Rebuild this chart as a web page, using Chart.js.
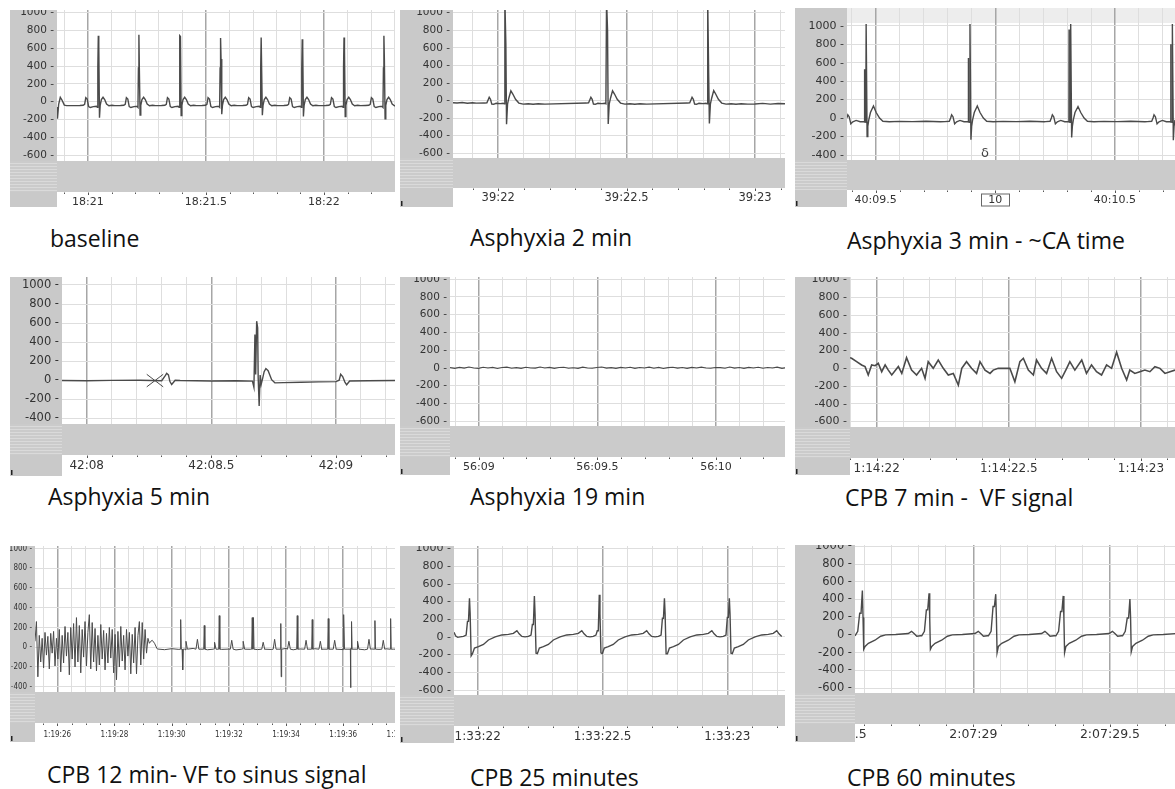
<!DOCTYPE html>
<html>
<head>
<meta charset="utf-8">
<script src="https://cdn.jsdelivr.net/npm/chart.js@4.4.1/dist/chart.umd.min.js"></script>
<style>
  body { margin: 0; background: #fff; width: 1175px; height: 789px; position: relative; overflow: hidden; }
  canvas { position: absolute; }
  .caption { position: absolute; font-family: 'Open Sans', 'Noto Sans', sans-serif; font-size: 23px; color: #111; white-space: pre; line-height: 30px; }
</style>
</head>
<body>
<script>
// ---------- data (seconds from first labelled tick, value in µV) ----------

// baseline
const p1Labels = ['18:21', '18:21.5', '18:22'];
const p1BeatTimes = [0.044, 0.216, 0.390, 0.562, 0.734, 0.908, 1.085, 1.254];
const p1RPeaks = [740, 750, 740, 715, 720, 700, 720, 740];
const p1RNotch = [630, 350, 730, 480, 720, 620, 580, 470];
const p1SDips = [-180, -150, -155, -140, -150, -165, -165, -190];
const p1Beat = [[-0.078, -42], [-0.064, -40], [-0.058, -30], [-0.053, 45], [-0.047, 30], [-0.041, -55], [-0.034, -65],
  [-0.021, -55], [-0.008, -50], [-0.004, -62], [-0.002, 380], [0, 'R'], [0.002, 'N'], [0.005, 'S'], [0.008, -40],
  [0.013, 25], [0.020, 50], [0.027, 25], [0.035, -25], [0.045, -45], [0.058, -40], [0.070, -44]];
const p1Lead = [[-0.131, -60], [-0.129, -190], [-0.124, -30], [-0.117, 50], [-0.110, 20], [-0.100, -38], [-0.090, -44]];

// asphyxia 2 min
const p2Labels = ['39:22', '39:22.5', '39:23'];
const p2BeatTimes = [0.026, 0.422, 0.816];
const p2RPeaks = [1150, 1150, 1150];
const p2RNotch = [640, 800, 270];
const p2SDips = [-270, -265, -260];
const p2TPeaks = [112, 112, 115];
const p2Beat = [[-0.078, -28], [-0.070, -25], [-0.065, 10], [-0.061, 38], [-0.056, 15], [-0.051, -40], [-0.044, -42],
  [-0.034, -30], [-0.018, -34], [-0.0065, -30], [-0.0026, -36], [0, 'R'], [0.0039, 'N'], [0.0065, 'S'], [0.0104, -40],
  [0.0156, 30], [0.0234, 'T'], [0.031, 75], [0.0416, 15], [0.0545, -28], [0.0714, -40], [0.091, -35], [0.110, -42],
  [0.130, -36], [0.156, -40]];
const p2Lead = [[-0.176, -25], [-0.160, -28], [-0.140, -22], [-0.120, -30], [-0.100, -24], [-0.085, -29]];
const p2Tail = [[1.000, -38], [1.030, -32], [1.060, -40], [1.090, -33], [1.117, -36]];

// asphyxia 3 min
const p3Labels = ['40:09.5', '10', '40:10.5'];
const p3BeatTimes = [-0.040, 0.394, 0.815, 1.240];
const p3RPeaks = [1020, 1020, 1020, 1020];
const p3RNotch = [530, 650, 960, 800];
const p3SDips = [-200, -235, -210, -240];
const p3TPeaks = [130, 130, 125, 130];
const p3Beat = [[-0.1045, -38], [-0.0864, -35], [-0.0808, 0], [-0.0766, 35], [-0.071, 15], [-0.064, -62], [-0.0557, -40],
  [-0.0418, -25], [-0.025, -40], [-0.011, -38], [-0.0075, -42], [-0.0068, 'N'], [-0.006, -40], [-0.0015, -45], [0, 'R'],
  [0.004, 'S'], [0.007, -90], [0.011, -20], [0.018, 60], [0.0306, 'T'], [0.042, 60], [0.056, 0], [0.070, -35],
  [0.097, -40], [0.139, -36], [0.195, -38], [0.250, -35], [0.310, -40]];
const p3Comment = { t: 0.457, v: -386, text: 'δ' };

// asphyxia 5 min
const p4Labels = ['42:08', '42:08.5', '42:09'];
const p4Times = [-0.099, 0.0, 0.1, 0.214, 0.301, 0.316, 0.321, 0.328, 0.334, 0.341, 0.355, 0.375, 0.5, 0.6, 0.665, 0.671,
  0.675, 0.678, 0.682, 0.686, 0.688, 0.692, 0.696, 0.700, 0.706, 0.712, 0.719, 0.728, 0.742, 0.755, 0.79, 0.86, 0.93,
  1.0, 1.013, 1.019, 1.027, 1.036, 1.043, 1.055, 1.13, 1.237];
const p4Values = [-3, -5, -2, 0, -5, 50, 72, 55, -14, -45, 0, -3, -8, -5, -10, -75, 480, 60, 620, 550, 30, -270, 55, -45,
  20, 90, 122, 100, 5, -28, -25, -22, -18, -15, 0, 62, 38, -20, -48, -8, -5, -3];
const p4Cross = [[0.241, 62], [0.307, -70], [0.241, -70], [0.307, 62]];

// asphyxia 19 min
const p5Labels = ['56:09', '56:09.5', '56:10'];
const p5Start = -0.122, p5Step = 0.02;
const p5Values = [2, -6, 5, -4, 8, -3, -7, 6, -2, 4, -8, 3, 7, -5, 2, -6, 6, -3, -4, 8, -2, 5, -7, 3, 6, -5, 1, -6, 7, -2,
  -5, 4, 8, -4, 2, -7, 5, -3, 6, -6, 3, -2, 7, -5, 4, -8, 2, 6, -4, 3, -6, 5, -2, 7, -3, -6, 4, 2, -5, 8,
  -4, 3, -7, 5, -2, 6, -5, 3, -3, 7, -6, 2];

// CPB 7 min - VF
const p6Labels = ['1:14:22', '1:14:22.5', '1:14:23'];
const p6Times = [-0.101, -0.095, -0.076, -0.057, -0.044, -0.032, -0.019, -0.006, 0.006, 0.019, 0.032, 0.044, 0.057,
  0.082, 0.095, 0.113, 0.132, 0.151, 0.170, 0.183, 0.195, 0.214, 0.233, 0.252, 0.271, 0.290, 0.309, 0.322, 0.340,
  0.359, 0.378, 0.391, 0.410, 0.429, 0.441, 0.460, 0.486, 0.504, 0.523, 0.542, 0.555, 0.574, 0.593, 0.605, 0.624,
  0.643, 0.662, 0.681, 0.700, 0.719, 0.731, 0.750, 0.776, 0.794, 0.813, 0.832, 0.851, 0.870, 0.889, 0.908, 0.927,
  0.946, 0.958, 0.977, 0.996, 1.015, 1.034, 1.053, 1.072, 1.091, 1.110, 1.129];
const p6Values = [120, 113, 75, 38, 19, -75, 38, 30, 57, -38, 38, -20, -75, 20, -57, 120, -19, -75, 0, -113, 75, 0, 94,
  0, -75, -57, -189, 0, 75, 0, -57, 75, -20, -57, -20, 0, 0, 0, -151, 75, 113, -20, -75, 94, 0, -57, 113, -38, -113, 0,
  75, -20, 94, -57, 38, -38, -75, 38, 0, 181, 0, -132, -20, -57, -38, -20, -38, 19, 0, -57, -38, -20];

// CPB 12 min - VF to sinus
const p7Labels = ['1:19:26', '1:19:28', '1:19:30', '1:19:32', '1:19:34', '1:19:36', '1:19:38'];
const p7VfStart = -0.78, p7VfStep = 0.05;
const p7VfValues = [60, 260, -300, 120, -150, 90, -210, 150, -80, 110,
  -220, 140, -60, 160, -190, 90, -120, 180, -250, 120,
  -160, 210, -90, 150, -280, 200, -120, 240, -200, 300,
  -150, 220, -260, 180, -100, 260, -190, 150, 330, -220,
  250, -150, 190, -240, 120, -180, 230, -120, 170, -230,
  140, -160, 200, -110, 180, -260, 130, -330, 160, -200,
  210, -140, 120, -230, 180, -90, 150, -270, 130, -160,
  200, -270, 120, 260, -180, 250, -120, 180, -60, 90,
  40, 60];
const p7Transition = [[3.32, 70], [3.40, 40], [3.48, -10]];
const p7BaseStart = 3.5, p7BaseStep = 0.25, p7BaseLevel = -20;
const p7BaseValues = [-18, -25, -15, -22, -28, -12, -20, -26, -16, -22, -19, -27, -14, -21, -24, -17, -23, -20, -12, -26,
  -18, -22, -15, -25, -20, -17, -24, -13, -21, -26, -18, -22, -16, -20, -19];
const p7SpikeTimes = [4.315, 4.385, 5.14, 5.664, 6.818, 6.86, 7.822, 7.83, 8.392, 8.916, 9.476, 10.024, 10.269, 10.29, 11.108, 11.657];
const p7SpikeValues = [280, -230, 220, 320, 300, 300, 240, -300, 320, 280, 290, 330, -410, 260, 270, 290];
const p7BumpTimes = [4.5, 4.9, 5.5, 6.1, 6.5, 7.2, 7.6, 8.1, 8.7, 9.2, 9.7, 10.5, 10.9, 11.4];
const p7BumpValues = [60, 80, 50, 70, 60, 50, 80, 60, 70, 60, 70, 60, 80, 70];

// CPB 25 minutes
const p8Labels = ['1:33:22', '1:33:22.5', '1:33:23'];
const p8BeatTimes = [-0.033, 0.227, 0.487, 0.748, 1.008];
const p8RPeaks = [435, 460, 475, 435, 435];
const p8Shoulders = [175, 140, 70, 210, 220];
const p8SDips = [-215, -185, -180, -190, -185];
const p8Beat = [[-0.0374, 0], [-0.024, 5], [-0.0134, 20], [-0.008, 'U'], [-0.004, 'U'], [0, 'R'], [0.0027, 260],
  [0.0067, 'S'], [0.012, -190], [0.020, -125], [0.036, -110], [0.056, -85], [0.076, -35], [0.103, 0], [0.1295, 22],
  [0.156, 28], [0.176, 40], [0.190, 70], [0.199, 35], [0.210, 5]];
const p8Lead = [[-0.095, 52], [-0.088, 10], [-0.080, -5]];

// CPB 60 minutes
const p9Labels = ['2:07:28.5', '2:07:29', '2:07:29.5', '2:07:30'];
const p9BeatTimes = [-0.406, -0.162, 0.082, 0.329, 0.573];
const p9RPeaks = [500, 470, 460, 440, 405];
const p9Shoulders = [245, 283, 320, 264, 190];
const p9SDips = [-162, -162, -200, -200, -190];
const p9Beat = [[-0.0268, -10], [-0.017, 40], [-0.0098, 'U'], [-0.0049, 'U'], [0, 'R'], [0.0024, 200], [0.0049, 'S'],
  [0.0098, -130], [0.022, -95], [0.046, -60], [0.067, -15], [0.085, 0], [0.122, 5], [0.168, 15], [0.180, 40],
  [0.190, 12], [0.199, -15], [0.213, -10]];

const yTicksWide = [-600, -400, -200, 0, 200, 400, 600, 800, 1000];
const yTicksShort = [-400, -200, 0, 200, 400, 600, 800, 1000];

// ---------- building the series ----------
function buildBeats(lead, template, beatTimes, slots, tail) {
  const pts = lead.map(([x, y]) => ({ x, y }));
  beatTimes.forEach((t0, i) => {
    template.forEach(([dt, v]) => {
      pts.push({ x: t0 + dt, y: typeof v === 'string' ? slots[v][i] : v });
    });
  });
  (tail || []).forEach(([x, y]) => pts.push({ x, y }));
  return pts;
}
function zip(times, values) {
  const n = Math.min(times.length, values.length);
  const pts = [];
  for (let i = 0; i < n; i++) pts.push({ x: times[i], y: values[i] });
  return pts;
}
function sampled(start, step, values) {
  return values.map((y, i) => ({ x: start + i * step, y }));
}
function buildSinus() {
  let pts = sampled(p7VfStart, p7VfStep, p7VfValues);
  p7Transition.forEach(([x, y]) => pts.push({ x, y }));
  pts = pts.concat(sampled(p7BaseStart, p7BaseStep, p7BaseValues));
  p7SpikeTimes.forEach((t, i) => {
    pts.push({ x: t - 0.02, y: p7BaseLevel }, { x: t, y: p7SpikeValues[i] }, { x: t + 0.02, y: p7BaseLevel });
  });
  p7BumpTimes.forEach((t, i) => {
    pts.push({ x: t - 0.05, y: p7BaseLevel }, { x: t, y: p7BumpValues[i] }, { x: t + 0.05, y: p7BaseLevel });
  });
  return pts.sort((a, b) => a.x - b.x);
}
function crossMarker(c) {
  return [{ x: c[0][0], y: c[0][1] }, { x: c[1][0], y: c[1][1] }, { x: (c[0][0] + c[1][0]) / 2, y: null },
    { x: c[2][0], y: c[2][1] }, { x: c[3][0], y: c[3][1] }];
}

const trace = (data, w) => ({ data, borderColor: '#4a4a4a', borderWidth: w || 1.4, pointRadius: 0, tension: 0, clip: 0, spanGaps: false });

// ---------- panel geometry (page pixels) ----------
const FAMILY = "'DejaVu Sans', Verdana, sans-serif";
const NARROW = "'Liberation Sans Narrow', 'DejaVu Sans Condensed', sans-serif";

const panels = [
  { left: 10, strip: 57, right: 395, top: 10, bandTop: 161, bandBot: 192, bottom: 207,
    xMin: -0.131, xMax: 1.301, yMin: -664, yMax: 1028, minor: 0.1, major: 0.5, yTicks: yTicksWide,
    labels: p1Labels, labelStart: 0, yFont: 10.5, xFont: 11,
    series: [trace(buildBeats(p1Lead, p1Beat, p1BeatTimes, { R: p1RPeaks, N: p1RNotch, S: p1SDips }))] },
  { left: 400, strip: 453, right: 785, top: 10, bandTop: 158, bandBot: 188, bottom: 207, nick: true,
    xMin: -0.176, xMax: 1.117, yMin: -653, yMax: 1031, minor: 0.1, major: 0.5, yTicks: yTicksWide,
    labels: p2Labels, labelStart: 0, yFont: 10.5, xFont: 11.5,
    series: [trace(buildBeats(p2Lead, p2Beat, p2BeatTimes, { R: p2RPeaks, N: p2RNotch, S: p2SDips, T: p2TPeaks }, p2Tail))] },
  { left: 795, strip: 847, right: 1175, top: 8, bandTop: 160, bandBot: 190, bottom: 207, nick: true,
    xMin: -0.12, xMax: 1.251, yMin: -454, yMax: 1192, minor: 0.1, major: 0.5, yTicks: yTicksShort,
    labels: p3Labels, labelStart: 0, boxed: 1, shadeAbove: 1030, comment: p3Comment, yFont: 11, xFont: 11,
    series: [trace(buildBeats([], p3Beat, p3BeatTimes, { R: p3RPeaks, N: p3RNotch, S: p3SDips, T: p3TPeaks }))] },
  { left: 10, strip: 62, right: 395, top: 277, bandTop: 424, bandBot: 455, bottom: 476, nick: true,
    xMin: -0.099, xMax: 1.237, yMin: -460, yMax: 1084, minor: 0.1, major: 0.5, yTicks: yTicksShort,
    labels: p4Labels, labelStart: 0, yFont: 11.5, xFont: 12,
    series: [trace(zip(p4Times, p4Values)), trace(crossMarker(p4Cross), 1)] },
  { left: 400, strip: 450, right: 785, top: 277, bandTop: 426, bandBot: 457, bottom: 475, nick: true,
    xMin: -0.122, xMax: 1.291, yMin: -656, yMax: 1023, minor: 0.1, major: 0.5, yTicks: yTicksWide,
    labels: p5Labels, labelStart: 0, yFont: 10.5, xFont: 11,
    series: [trace(sampled(p5Start, p5Step, p5Values), 1.1)] },
  { left: 795, strip: 850, right: 1175, top: 277, bandTop: 427, bandBot: 458, bottom: 475, nick: true,
    xMin: -0.101, xMax: 1.129, yMin: -661, yMax: 1029, minor: 0.1, major: 0.5, yTicks: yTicksWide,
    labels: p6Labels, labelStart: 0, yFont: 11, xFont: 12,
    series: [trace(zip(p6Times, p6Values), 1.6)] },
  { left: 10, strip: 35, right: 395, top: 546, bandTop: 692, bandBot: 723, bottom: 742, nick: true,
    xMin: -0.78, xMax: 11.81, yMin: -454, yMax: 1026, minor: 0.5, major: 2, yTicks: yTicksShort,
    labels: p7Labels, labelStart: 0, narrow: true, yFont: 8, xFont: 8,
    series: [trace(buildSinus(), 1)] },
  { left: 400, strip: 454, right: 785, top: 546, bandTop: 695, bandBot: 726, bottom: 743, nick: true,
    xMin: -0.095, xMax: 1.231, yMin: -656, yMax: 1026, minor: 0.1, major: 0.5, yTicks: yTicksWide,
    labels: p8Labels, labelStart: 0, yFont: 11, xFont: 12,
    series: [trace(buildBeats(p8Lead, p8Beat, p8BeatTimes, { R: p8RPeaks, U: p8Shoulders, S: p8SDips }))] },
  { left: 795, strip: 855, right: 1175, top: 545, bandTop: 693, bandBot: 724, bottom: 742, nick: true,
    xMin: -0.433, xMax: 0.738, yMin: -656, yMax: 1015, minor: 0.1, major: 0.5, yTicks: yTicksWide,
    labels: p9Labels, labelStart: -0.5, yFont: 11.5, xFont: 12.5,
    series: [trace(buildBeats([], p9Beat, p9BeatTimes, { R: p9RPeaks, U: p9Shoulders, S: p9SDips }))] }
];

const captions = [
  ['baseline', 50, 238], ['Asphyxia 2 min', 470, 237], ['Asphyxia 3 min - ~CA time', 847, 240],
  ['Asphyxia 5 min', 48, 496], ['Asphyxia 19 min', 470, 496], ['CPB 7 min -  VF signal', 845, 497],
  ['CPB 12 min- VF to sinus signal', 47, 774], ['CPB 25 minutes', 470, 777], ['CPB 60 minutes', 847, 777]
];

// ---------- drawing ----------
function gridValues(min, max, step) {
  const out = [];
  for (let v = Math.ceil(min / step - 1e-9) * step; v <= max + 1e-9; v += step) out.push(Math.round(v * 1000) / 1000);
  return out;
}
const isMajor = (v, major) => Math.abs(v / major - Math.round(v / major)) < 1e-6;

function framePlugin(p) {
  const bandBot = p.bandBot - p.top;
  const fam = p.narrow ? NARROW : FAMILY;
  return {
    id: 'labchartFrame',
    beforeDraw(chart) {
      const { ctx, chartArea: a, width: W, height: H } = chart;
      ctx.save();
      ctx.fillStyle = '#fff';
      ctx.fillRect(0, 0, W, H);
      ctx.fillStyle = '#c9c9c9';
      ctx.fillRect(0, 0, a.left, H);
      if (p.shadeAbove) {
        const y = chart.scales.y.getPixelForValue(p.shadeAbove);
        ctx.fillStyle = '#ededed';
        ctx.fillRect(a.left, a.top, a.right - a.left, y - a.top);
      }
      ctx.fillStyle = '#cbcbcb';
      ctx.fillRect(0, a.bottom, W, bandBot - a.bottom);
      ctx.strokeStyle = '#dadada';
      ctx.lineWidth = 1;
      for (let y = a.bottom + 2.5; y < bandBot; y += 3) {
        ctx.beginPath(); ctx.moveTo(0, y); ctx.lineTo(a.left, y); ctx.stroke();
      }
      if (p.nick) {
        ctx.fillStyle = '#222';
        ctx.fillRect(1, H - 6, 1.5, 5);
      }
      ctx.restore();
    },
    afterDraw(chart) {
      const { ctx, chartArea: a, width: W, height: H } = chart;
      const xs = chart.scales.x, ys = chart.scales.y;
      ctx.save();
      // y labels, placed on the library's y scale
      ctx.fillStyle = '#333';
      ctx.font = `${p.yFont}px ${fam}`;
      ctx.textAlign = 'right';
      ctx.textBaseline = 'middle';
      p.yTicks.forEach(v => ctx.fillText(v + ' -', a.left - 3, ys.getPixelForValue(v)));
      // time strip
      ctx.beginPath();
      ctx.rect(a.left, bandBot, W - a.left, H - bandBot);
      ctx.clip();
      ctx.strokeStyle = '#555';
      ctx.lineWidth = 1;
      gridValues(p.xMin, p.xMax, p.minor).forEach(v => {
        const px = Math.round(xs.getPixelForValue(v)) + 0.5;
        ctx.beginPath();
        ctx.moveTo(px, bandBot + 0.5);
        ctx.lineTo(px, bandBot + (isMajor(v, p.major) ? 3 : 2));
        ctx.stroke();
      });
      ctx.fillStyle = '#333';
      ctx.font = `${p.xFont}px ${fam}`;
      ctx.textAlign = 'center';
      const ly = bandBot + (p.narrow ? 11.5 : 10.5);
      p.labels.forEach((text, i) => {
        const px = xs.getPixelForValue(p.labelStart + i * p.major);
        ctx.fillText(text, px, ly);
        if (p.boxed === i) {
          const w = ctx.measureText(text).width + 14;
          ctx.strokeStyle = '#666';
          ctx.strokeRect(Math.round(px - w / 2) + 0.5, ly - 6.5, w, 12);
        }
      });
      ctx.restore();
      if (p.comment) {
        ctx.save();
        ctx.fillStyle = '#444';
        ctx.font = `13px ${FAMILY}`;
        ctx.textAlign = 'center';
        ctx.textBaseline = 'middle';
        ctx.fillText(p.comment.text, xs.getPixelForValue(p.comment.t), ys.getPixelForValue(p.comment.v));
        ctx.restore();
      }
    }
  };
}

function makePanel(p) {
  const canvas = document.createElement('canvas');
  const W = p.right - p.left, H = p.bottom - p.top;
  canvas.width = W;
  canvas.height = H;
  canvas.style.left = p.left + 'px';
  canvas.style.top = p.top + 'px';
  document.body.appendChild(canvas);

  new Chart(canvas, {
    type: 'line',
    data: { datasets: p.series },
    options: {
      responsive: false,
      animation: false,
      events: [],
      layout: { autoPadding: false, padding: 0 },
      plugins: { legend: { display: false }, tooltip: { enabled: false } },
      scales: {
        x: {
          type: 'linear', min: p.xMin, max: p.xMax,
          afterBuildTicks: s => { s.ticks = gridValues(p.xMin, p.xMax, p.minor).map(value => ({ value })); },
          afterFit: s => { s.height = p.bottom - p.bandTop; },
          ticks: { display: false },
          grid: {
            drawTicks: false,
            color: c => isMajor(c.tick.value, p.major) ? '#a6a6a6' : '#dedede',
            lineWidth: c => isMajor(c.tick.value, p.major) ? 1.5 : 1
          },
          border: { display: false }
        },
        y: {
          type: 'linear', min: p.yMin, max: p.yMax,
          afterBuildTicks: s => { s.ticks = p.yTicks.map(value => ({ value })); },
          afterFit: s => { s.width = p.strip - p.left; },
          ticks: { display: false },
          grid: { drawTicks: false, color: '#dedede' },
          border: { display: false }
        }
      }
    },
    plugins: [framePlugin(p)]
  });
}

panels.forEach(makePanel);

captions.forEach(([text, x, y]) => {
  const d = document.createElement('div');
  d.className = 'caption';
  d.textContent = text;
  d.style.left = x + 'px';
  d.style.top = (y - 15) + 'px';
  document.body.appendChild(d);
});
</script>
</body>
</html>
